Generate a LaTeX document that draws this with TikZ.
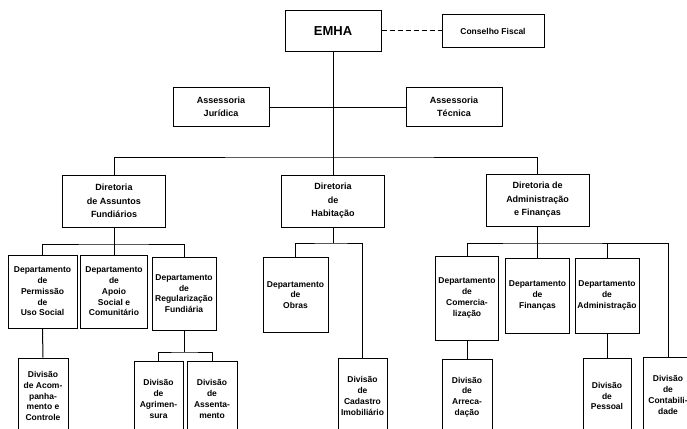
\documentclass[tikz,border=0pt]{standalone}
\usepackage{fontspec}
\setmainfont{Liberation Sans}
\begin{document}
\begin{tikzpicture}[
    x=1pt, y=-1pt,
    box/.style={rectangle, draw, line width=1pt, align=center, inner sep=1pt, font=\fontsize{9}{12.5}\selectfont\bfseries},
    dir/.style={box, minimum width=103pt, minimum height=52pt, font=\fontsize{9}{13.5}\selectfont\bfseries},
    dept/.style={box, minimum width=65pt, minimum height=75pt, font=\fontsize{8.5}{10.7}\selectfont\bfseries},
    divn/.style={box, minimum width=49pt, minimum height=76pt, font=\fontsize{8.5}{10.7}\selectfont\bfseries},
    link/.style={line width=1pt}
]
\clip (0,0) rectangle (687,428);

% Top
\node[box, minimum width=96pt, minimum height=41pt, font=\fontsize{13}{15}\selectfont\bfseries] (emha) at (333,31) {EMHA};
\node[box, minimum width=102pt, minimum height=33pt, font=\fontsize{8.5}{10}\selectfont\bfseries] (fiscal) at (493,31) {Conselho Fiscal};

% Assessorias
\node[box, minimum width=96pt, minimum height=39pt] (jur) at (221,107) {Assessoria\\Jurídica};
\node[box, minimum width=96pt, minimum height=39pt] (tec) at (454,107) {Assessoria\\Técnica};

% Diretorias
\node[dir] (dirFund) at (114,201) {Diretoria\\de Assuntos\\Fundiários};
\node[dir] (dirHab) at (333,201) {Diretoria\\de\\Habitação};
\node[dir] (dirAdm) at (537.5,200) {Diretoria de\\Administração\\e Finanças};

% Departamentos
\node[dept, minimum width=69pt, minimum height=73pt] (depPerm) at (42.5,291.5) {Departamento\\de\\Permissão\\de\\Uso Social};
\node[dept, minimum width=67pt, minimum height=73pt] (depApoio) at (114,291.5) {Departamento\\de\\Apoio\\Social e\\Comunitário};
\node[dept, minimum width=64pt, minimum height=73pt] (depReg) at (184,293.5) {Departamento\\de\\Regularização\\Fundiária};
\node[dept] (depObras) at (295.5,295) {Departamento\\de\\Obras};
\node[dept, minimum width=63pt, minimum height=84pt] (depCom) at (467,298) {Departamento\\de\\Comercia-\\lização};
\node[dept, minimum width=64pt] (depFin) at (537.5,295.5) {Departamento\\de\\Finanças};
\node[dept, minimum width=64pt] (depAdm) at (607,295.5) {Departamento\\de\\Administração};

% Divisoes
\node[divn, minimum width=50pt] (divAcomp) at (43,396) {Divisão\\de Acom-\\panha-\\mento e\\Controle};
\node[divn] (divAgrim) at (158.5,399) {Divisão\\de\\Agrimen-\\sura};
\node[divn, minimum width=50pt] (divAssent) at (212,399) {Divisão\\de\\Assenta-\\mento};
\node[divn] (divCad) at (362.5,396) {Divisão\\de\\Cadastro\\Imobiliário};
\node[divn, minimum width=50pt] (divArrec) at (467,397) {Divisão\\de\\Arreca-\\dação};
\node[divn, minimum width=48pt] (divPess) at (607,396) {Divisão\\de\\Pessoal};
\node[divn, minimum width=50pt] (divCont) at (668,395) {Divisão\\de\\Contabili-\\dade};

% Bus points
\coordinate (topBus) at (333,157);
\coordinate (fundBus) at (114,244);
\coordinate (habBus) at (333,243);
\coordinate (admBus) at (537.5,243);
\coordinate (regBus) at (184,352);

% Top links
\draw[link, dash pattern=on 5pt off 3pt] (emha) -- (fiscal);
\draw[link] (emha) -- (dirHab);
\draw[link] (jur) -- (tec);
\draw[link] (dirFund.north) |- (topBus) -| (dirAdm.north);

% Diretoria de Assuntos Fundiarios
\draw[link] (dirFund) -- (fundBus);
\draw[link] (depPerm.north) |- (fundBus) -| (depReg.north);
\draw[link] (fundBus) -- (depApoio);
\draw[link] (depPerm) -- (divAcomp);
\draw[link] (depReg) -- (regBus);
\draw[link] (divAgrim.north) |- (regBus) -| (divAssent.north);

% Diretoria de Habitacao
\draw[link] (dirHab) -- (habBus);
\draw[link] (depObras.north) |- (habBus) -| (divCad.north);

% Diretoria de Administracao e Financas
\draw[link] (dirAdm) -- (admBus);
\draw[link] (depCom.north) |- (admBus) -| (divCont.north);
\draw[link] (admBus) -- (depFin);
\draw[link] (depAdm.north) -- (depAdm.north |- admBus);
\draw[link] (depCom) -- (divArrec);
\draw[link] (depAdm) -- (divPess);
\end{tikzpicture}
\end{document}
